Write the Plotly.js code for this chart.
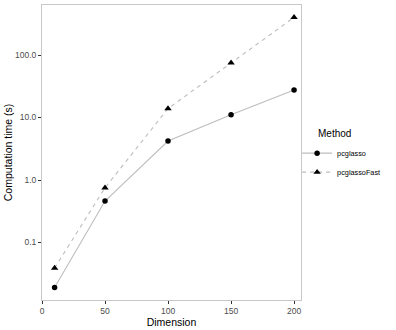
<!DOCTYPE html>
<html>
<head>
<meta charset="utf-8">
<script src="https://cdn.plot.ly/plotly-3.0.1.min.js"></script>
<style>
  html, body { margin: 0; padding: 0; background: #fff; }
  #chart { width: 396px; height: 330px; }
</style>
</head>
<body>
<div id="chart"></div>
<script>
// values
const dims = [10, 50, 100, 150, 200];
const timePcglasso = [0.019, 0.46, 4.2, 11.1, 27.5];
const timeFast = [0.039, 0.75, 13.9, 75, 400];
const yTickVals = [0.1, 1, 10, 100];
const yTickText = ["0.1", "1.0", "10.0", "100.0"];
const xTickVals = [0, 50, 100, 150, 200];

const traces = [
  {
    type: "scatter", mode: "lines+markers", name: "pcglasso",
    x: dims, y: timePcglasso,
    line: { color: "#bdbdbd", width: 1.1 },
    marker: { symbol: "circle", size: 5.5, color: "#000" }
  },
  {
    type: "scatter", mode: "lines+markers", name: "pcglassoFast",
    x: dims, y: timeFast,
    line: { color: "#bdbdbd", width: 1.1, dash: "4px,4px" },
    marker: { symbol: "triangle-up", size: 6.5, color: "#000" }
  }
];

const font = "Liberation Sans, Arial, sans-serif";

const layout = {
  width: 396, height: 330,
  margin: { l: 42, r: 95, t: 5, b: 30 },
  paper_bgcolor: "#fff", plot_bgcolor: "#fff",
  font: { family: font, color: "#000" },
  showlegend: true,
  legend: {
    xref: "paper", yref: "paper",
    x: 0.985, xanchor: "left", y: 0.547, yanchor: "top",
    bgcolor: "rgba(0,0,0,0)",
    font: { size: 7.3, color: "#000" },
    tracegroupgap: 0, itemwidth: 30
  },
  annotations: [{
    text: "Method", xref: "paper", yref: "paper",
    x: 1.058, y: 0.563, xanchor: "left", yanchor: "middle",
    showarrow: false, font: { size: 10, color: "#000" }
  }],
  xaxis: {
    range: [0, 205.5], tickvals: xTickVals,
    ticks: "outside", ticklen: 3, tickcolor: "#333",
    tickfont: { size: 8.5, color: "#4d4d4d" },
    showgrid: false, zeroline: false,
    showline: true, mirror: true, linecolor: "#c8c8c8", linewidth: 1,
    title: { text: "Dimension", font: { size: 10.5, color: "#000" }, standoff: 2 }
  },
  yaxis: {
    type: "log", range: [-1.92, 2.8],
    tickvals: yTickVals, ticktext: yTickText,
    ticks: "outside", ticklen: 3, tickcolor: "#333",
    tickfont: { size: 8.5, color: "#4d4d4d" },
    showgrid: false, zeroline: false,
    showline: true, mirror: true, linecolor: "#c8c8c8", linewidth: 1,
    title: { text: "Computation time (s)", font: { size: 10.5, color: "#000" }, standoff: 0 }
  }
};

Plotly.newPlot("chart", traces, layout, { displayModeBar: false, staticPlot: true });
</script>
</body>
</html>
